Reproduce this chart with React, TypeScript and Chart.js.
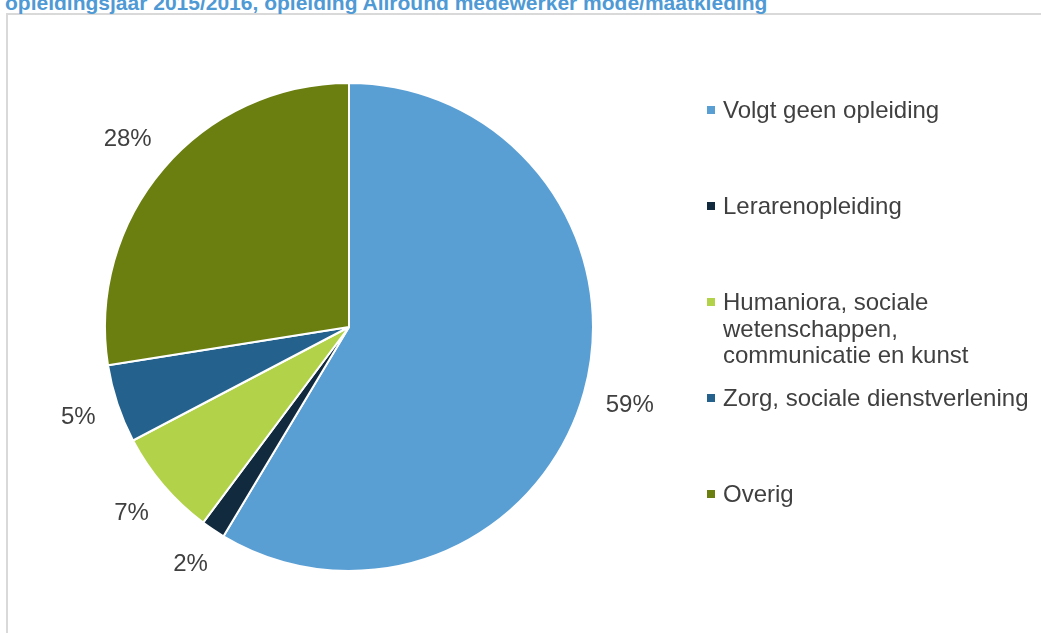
import React, { useEffect, useRef } from "react";
import { Chart, registerables } from "chart.js";

Chart.register(...registerables);

const titleText = "opleidingsjaar 2015/2016, opleiding Allround medewerker mode/maatkleding";
const categories = [
  "Volgt geen opleiding",
  "Lerarenopleiding",
  "Humaniora, sociale wetenschappen, communicatie en kunst",
  "Zorg, sociale dienstverlening",
  "Overig",
];
const shares = [58.6, 1.6, 7.1, 5.2, 27.5];
const colors = ["#5A9FD4", "#112A3D", "#B2D24A", "#24628D", "#6A7F10"];

const FONT = '"Liberation Sans", Arial, Helvetica, sans-serif';
const TEXT = "#404040";

const outsideLabels = {
  id: "outsideLabels",
  afterDatasetsDraw(chart: any) {
    const ctx = chart.ctx as CanvasRenderingContext2D;
    const meta = chart.getDatasetMeta(0);
    const data = chart.data.datasets[0].data as number[];
    const total = data.reduce((a, b) => a + b, 0);
    ctx.save();
    ctx.font = `24px ${FONT}`;
    ctx.fillStyle = TEXT;
    ctx.textAlign = "center";
    ctx.textBaseline = "middle";
    meta.data.forEach((arc: any, i: number) => {
      const { x, y, startAngle, endAngle, outerRadius } = arc.getProps(
        ["x", "y", "startAngle", "endAngle", "outerRadius"],
        true
      );
      const text = `${Math.round((data[i] / total) * 100)}%`;
      const w = ctx.measureText(text).width;
      const h = 24;
      const mid = (startAngle + endAngle) / 2;
      const c = Math.cos(mid);
      const s = Math.sin(mid);
      const r = outerRadius + 21 + Math.abs(c) * (w / 2) + Math.abs(s) * (h / 2);
      ctx.fillText(text, x + c * r, y + s * r + 1);
    });
    ctx.restore();
  },
};

export default function App() {
  const canvasRef = useRef<HTMLCanvasElement | null>(null);

  useEffect(() => {
    if (!canvasRef.current) return;
    const chart = new Chart(canvasRef.current, {
      type: "pie",
      data: {
        labels: categories,
        datasets: [
          {
            data: shares,
            backgroundColor: colors,
            borderColor: "#ffffff",
            borderWidth: 2,
            hoverOffset: 0,
            offset: 0,
          },
        ],
      },
      options: {
        responsive: false,
        animation: false,
        layout: { padding: { left: 104, top: 82, right: 447, bottom: 61 } },
        plugins: {
          legend: { display: false },
          tooltip: { enabled: false },
        },
      },
      plugins: [outsideLabels],
    });
    return () => chart.destroy();
  }, []);

  return (
    <div
      style={{
        position: "absolute",
        left: 0,
        top: 0,
        width: 1041,
        height: 633,
        overflow: "hidden",
        background: "#ffffff",
        fontFamily: FONT,
      }}
    >
      <div
        style={{
          position: "absolute",
          left: 6,
          top: 13,
          width: 1200,
          height: 800,
          borderTop: "2px solid #d9d9d9",
          borderLeft: "2px solid #d9d9d9",
          boxSizing: "border-box",
        }}
      />
      <div
        style={{
          position: "absolute",
          left: 5,
          top: -8,
          fontSize: 21,
          lineHeight: "21px",
          fontWeight: "bold",
          color: "#4F9AD5",
          whiteSpace: "nowrap",
        }}
      >
        {titleText}
      </div>
      <canvas
        ref={canvasRef}
        width={1041}
        height={633}
        style={{ position: "absolute", left: 0, top: 0 }}
      />
      <div style={{ position: "absolute", left: 707, top: 97 }}>
        {categories.map((c, i) => (
          <div key={c} style={{ display: "flex", alignItems: "flex-start", height: 96 }}>
            <div
              style={{
                width: 8,
                height: 8,
                marginTop: 9,
                marginRight: 8,
                background: colors[i],
                flex: "0 0 auto",
              }}
            />
            <div style={{ fontSize: 24, lineHeight: "26.5px", color: TEXT, width: 320 }}>{c}</div>
          </div>
        ))}
      </div>
    </div>
  );
}
